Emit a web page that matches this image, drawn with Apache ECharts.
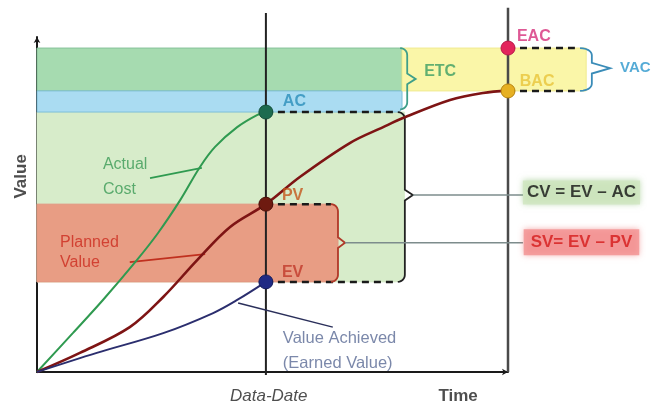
<!DOCTYPE html>
<html><head><meta charset="utf-8">
<script src="https://cdn.jsdelivr.net/npm/echarts@6/dist/echarts.min.js"></script>
<style>html,body{margin:0;padding:0;background:#fff}#c{width:661px;height:406px}</style>
</head><body><div id="c"></div>
<script>
// ---- data (time 0..100 = project end, value 0..100) ----
const acCurve = [[0,0],[7.6,11.6],[14.0,21.5],[21.2,33.4],[25.7,41.5],[30.4,51.3],[34.6,61.2],[37.8,67.2],[42.5,73.1],[46.7,76.7],[48.6,77.6]];
const pvCurve = [[0,0],[9.1,5.7],[19.7,13.4],[26.8,22.4],[34.0,33.4],[41.0,43.3],[48.6,50.1],[55.8,58.2],[66.5,68.4],[73.5,73.1],[77.7,75.8],[87.7,81.2],[94.7,83.3],[100,84]];
const evCurve = [[0,0],[12.7,5.7],[26.8,11.6],[37.4,17.6],[42.5,21.5],[48.6,26.9]];
const dataDate = 48.6;
const completion = 100;
const markerNames = ['AC','PV','EV','EAC','BAC'];
const markerX = [48.6,48.6,48.6,100,100];
const markerY = [77.6,50.1,26.9,96.7,83.9];
const bandNames = ['CV zone','SV zone','ETC zone','AC zone','VAC zone'];
const bandX0 = [0,0,0,0,77.5];
const bandX1 = [78,63.9,77.5,77.5,116.6];
const bandY0 = [26.9,26.9,83.9,77.6,83.9];
const bandY1 = [77.6,50.1,96.7,83.9,96.7];

const AC = markerY[0], PV = markerY[1], EV = markerY[2], EAC = markerY[3], BAC = markerY[4];

// ---- styling ----
const FONT = 'Liberation Sans, Arial, sans-serif';
const bandFill = ['#d7ecca','#e89d84','#a6dbb0','#aadcf2','#faf6a8'];
const bandStroke = ['#d7ecca','#e39580','#86c29a','#7fbfd8','#f0ea90'];
const bandR = [[0,0,9,0],[0,7,7,0],[0,0,0,0],[0,0,5,0],[0,0,0,0]];
const markerColors = ['#1d6b4f','#6e1a10','#1f2a84','#e3245c','#e6b022'];
const markerBorders = ['#14503a','#4a0f08','#141c5c','#b8184a','#b88410'];

function brace(xl, xv, yTop, yBot, yMid, tip) {
  const rx = xv - xl, ry = 2.1, pts = [];
  for (let k = 0; k <= 6; k++) { const t = Math.PI/2 - k*Math.PI/12; pts.push([xl + rx*Math.cos(t), yTop - ry + ry*Math.sin(t)]); }
  pts.push([xv, yMid + 1.6]); pts.push([xv + tip, yMid]); pts.push([xv, yMid - 1.6]);
  for (let k = 0; k <= 6; k++) { const t = -k*Math.PI/12; pts.push([xl + rx*Math.cos(t), yBot + ry + ry*Math.sin(t)]); }
  return pts;
}
function curve(name, data, color, width) {
  return { name, type:'line', data, clip:false, showSymbol:false, symbol:'none', silent:true, z:5,
    smooth:0.35, lineStyle:{ color, width } };
}
function lbl(x, y, text, o) {
  return { value:[x,y], label: Object.assign({ show:true, position:'inside', formatter:text, fontFamily:FONT,
    align:'left', verticalAlign:'middle', fontSize:16, fontWeight:'bold' }, o) };
}

const dash = [7,5];
const guides = [
  { pts:[[dataDate,-0.9],[dataDate,107.2]], color:'#222', width:2 },
  { pts:[[completion,0],[completion,108.7]], color:'#4a4a4a', width:2.5 },
  { pts:[[24.0,57.9],[35.0,60.9]], color:'#2f9a50', width:1.8 },
  { pts:[[19.7,32.8],[35.7,35.2]], color:'#c0301f', width:1.8 },
  { pts:[[42.7,20.6],[62.8,13.4]], color:'#2a2f5a', width:1.5 },
  { pts:[[dataDate,AC],[76.6,AC]], color:'#1a1a1a', width:2.5, dash },
  { pts:[[dataDate,EV],[76.6,EV]], color:'#1a1a1a', width:2.5, dash },
  { pts:[[dataDate,PV],[62.4,PV]], color:'#1a1a1a', width:2.5, dash },
  { pts:[[completion,EAC],[114.2,EAC]], color:'#1a1a1a', width:2.5, dash },
  { pts:[[completion,BAC],[114.2,BAC]], color:'#1a1a1a', width:2.5, dash },
  { pts:brace(76.6, 78.1, AC, EV, 52.8, 1.7), color:'#222', width:1.8 },
  { pts:brace(62.4, 63.9, PV, EV, 38.6, 1.5), color:'#b03a2a', width:1.8 },
  { pts:brace(77.1, 78.6, EAC, 78.4, 87.5, 1.8), color:'#3f9f8a', width:1.8 },
  { pts:brace(115.3, 117.8, EAC, BAC, 90.7, 3.9), color:'#3a8cb8', width:1.8 },
  { pts:[[79.8,52.8],[103.2,52.8]], color:'#7d8c8c', width:1.5 },
  { pts:[[65.4,38.6],[103.2,38.6]], color:'#7d8c8c', width:1.5 }
];

const series = [];
series.push({ type:'custom', name:'bands', clip:false, z:1, silent:true,
  encode:{x:[0,1], y:[2,3]},
  data: bandNames.map((n,i)=>({name:n, value:[bandX0[i],bandX1[i],bandY0[i],bandY1[i]]})),
  renderItem(params, api) {
    const i = params.dataIndex;
    const p0 = api.coord([api.value(0), api.value(3)]);
    const p1 = api.coord([api.value(1), api.value(2)]);
    return { type:'rect', shape:{ x:p0[0], y:p0[1], width:p1[0]-p0[0], height:p1[1]-p0[1], r:bandR[i] },
      style:{ fill:bandFill[i], stroke:bandStroke[i], lineWidth:1 } };
  }
});
series.push({ type:'custom', name:'guides', clip:false, z:4, silent:true,
  encode:{x:0, y:1},
  data: guides.map((g,i)=>({ value:[0,0,i] })),
  renderItem(params, api) {
    const g = guides[params.dataIndex];
    return { type:'polyline', shape:{ points: g.pts.map(p=>api.coord(p)) },
      style:{ stroke:g.color, lineWidth:g.width, lineDash:g.dash || null, fill:null } };
  }
});
series.push(curve('Actual Cost', acCurve, '#2f9a50', 2));
series.push(curve('Planned Value', pvCurve, '#7e1414', 2.6));
series.push(curve('Earned Value', evCurve, '#2b2e6e', 2));
series.push({ type:'scatter', name:'markers', clip:false, z:8, symbolSize:14, silent:true,
  data: markerNames.map((n,i)=>({ name:n, value:[markerX[i],markerY[i]],
    itemStyle:{ color:markerColors[i], borderColor:markerBorders[i], borderWidth:1, opacity:1 } })) });
series.push({ type:'scatter', name:'text', clip:false, z:9, symbolSize:0, silent:true,
  data: [
    lbl(14.0, 58.1, 'Actual\nCost', {fontWeight:'normal', fontSize:16, lineHeight:25, color:'#3a9a55'}),
    lbl(4.9, 35.7, 'Planned\nValue', {fontWeight:'normal', fontSize:16, lineHeight:20, color:'#cc2a1e'}),
    lbl(52.2, 6.4, 'Value Achieved\n(Earned Value)', {fontWeight:'normal', fontSize:16.5, lineHeight:25, color:'#5a6a95'}),
    lbl(52.2, 80.6, 'AC', {color:'#2a8fba'}),
    lbl(52.0, 52.8, 'PV', {color:'#c4561c'}),
    lbl(52.0, 29.6, 'EV', {color:'#c0392b'}),
    lbl(101.9, 100.2, 'EAC', {color:'#d6307a'}),
    lbl(102.5, 86.6, 'BAC', {color:'#e8c43a'}),
    lbl(82.2, 89.6, 'ETC', {color:'#3b9e63'}),
    lbl(123.8, 90.7, 'VAC', {color:'#2a96cc', fontSize:15}),
    lbl(115.6, 53.6, 'CV = EV – AC', {align:'center', fontSize:17, color:'#111', backgroundColor:'#cfe6bf',
      padding:[4,4,3,4], shadowBlur:6, shadowColor:'rgba(140,190,120,0.7)'}),
    lbl(115.6, 38.7, 'SV= EV – PV', {align:'center', fontSize:17, color:'#d41a1a', backgroundColor:'#f39090',
      padding:[5,7,4,7], shadowBlur:6, shadowColor:'rgba(235,110,110,0.7)'}),
    lbl(-3.4, 58.4, 'Value', {align:'center', rotate:90, fontSize:17, color:'#222'}),
    lbl(dataDate + 0.6, -7.2, 'Data-Date', {align:'center', fontWeight:'normal', fontStyle:'italic', fontSize:17, color:'#222'}),
    lbl(89.4, -7.2, 'Time', {align:'center', fontSize:17, color:'#222'})
  ] });

const axisCommon = { type:'value', min:0, max:100, axisTick:{show:false}, axisLabel:{show:false}, splitLine:{show:false},
  axisLine:{ show:true, lineStyle:{ color:'#1a1a1a', width:2 }, symbol:['none','arrow'], symbolSize:[5,6] } };

const chart = echarts.init(document.getElementById('c'), null, { renderer:'canvas' });
chart.setOption({
  animation:false,
  backgroundColor:'#fff',
  grid:{ left:37, top:37, width:471, height:335 },
  xAxis: Object.assign({}, axisCommon),
  yAxis: Object.assign({}, axisCommon),
  series
});
</script></body></html>
